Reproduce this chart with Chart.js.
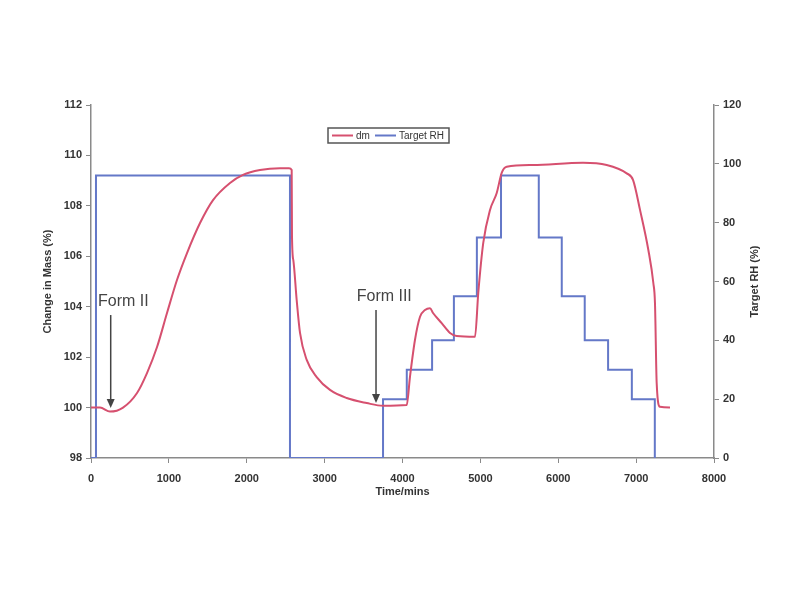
<!DOCTYPE html>
<html>
<head>
<meta charset="utf-8">
<script src="https://cdn.jsdelivr.net/npm/chart.js@4/dist/chart.umd.min.js"></script>
<style>
    body { margin: 0; background: #fff; }
</style>
</head>
<body>
<canvas id="chartDVS" width="800" height="600"></canvas>
<script>
/* =============================
   DỮ LIỆU
============================= */

// dm – change in mass (%), left axis
const dmTime = [0, 116, 244, 411, 591, 719, 848, 976, 1104, 1233, 1400, 1567, 1785, 1952, 2170, 2427, 2542,
    2577, 2581, 2598, 2641, 2684, 2770, 2898, 3069, 3283, 3540, 3750, 4054,
    4096, 4160, 4225, 4289, 4353, 4392, 4503, 4610, 4696, 4931,
    4973, 5037, 5124, 5210, 5274, 5338, 5676, 6318, 6622, 6879, 6960,
    7050, 7157, 7221, 7242, 7264, 7306, 7435];
const dmValue = [100.0, 100.0, 99.84, 100.0, 100.58, 101.37, 102.40, 103.75, 105.06, 106.13, 107.32, 108.23, 108.91, 109.23, 109.42, 109.49, 109.49,
    109.42, 106.77, 105.85, 104.27, 102.96, 101.89, 101.21, 100.70, 100.38, 100.18, 100.07, 100.10,
    101.22, 102.68, 103.60, 103.87, 103.94, 103.75, 103.35, 102.96, 102.84, 102.81,
    104.55, 106.53, 107.84, 108.51, 109.31, 109.55, 109.62, 109.71, 109.62, 109.29, 109.03,
    107.84, 106.25, 104.94, 104.15, 100.97, 100.03, 100.0];

// Target RH (%), right axis – each value holds until the next time
const rhTime = [0, 64, 2555, 3750, 4055, 4380, 4660, 4955, 5265, 5750, 6045, 6340, 6640, 6945, 7240];
const rhValue = [0, 96, 0, 20, 30, 40, 55, 75, 96, 75, 55, 40, 30, 20, 0];

// annotations
const formLabels = ["Form II", "Form III"];
const formArrowTime = [253, 3660];
const formArrowTop = [103.67, 103.87];
const formArrowBottom = [99.98, 100.18];
const formTextTime = [90, 3412];
const formTextMass = [104.19, 104.40];

const RED = "#d6506f";
const BLUE = "#6478c8";
const AXIS = "#8a8a8a";
const TICK_FONT = { family: "'Liberation Sans', Arial, sans-serif", size: 11, weight: "bold" };

/* =============================
   PLUGIN – TIÊU ĐỀ, CHÚ THÍCH, MŨI TÊN
============================= */

const extras = {
    id: "extras",
    afterDraw(chart) {
        const ctx = chart.ctx;
        const xs = chart.scales.x, ys = chart.scales.y;
        const ca = chart.chartArea;
        const midY = (ca.top + ca.bottom) / 2;
        ctx.save();

        // axis titles
        ctx.fillStyle = "#333";
        ctx.font = "bold 11px 'Liberation Sans', Arial, sans-serif";
        ctx.textAlign = "center";
        ctx.textBaseline = "middle";
        ctx.fillText("Time/mins", (ca.left + ca.right) / 2, 492);
        ctx.save();
        ctx.translate(48, midY);
        ctx.rotate(-Math.PI / 2);
        ctx.fillText("Change in Mass (%)", 0, 0);
        ctx.restore();
        ctx.save();
        ctx.translate(755, midY);
        ctx.rotate(-Math.PI / 2);
        ctx.fillText("Target RH (%)", 0, 0);
        ctx.restore();

        // Form II / Form III
        ctx.strokeStyle = "#444";
        ctx.fillStyle = "#444";
        ctx.lineWidth = 1.5;
        formLabels.forEach((lbl, i) => {
            const px = xs.getPixelForValue(formArrowTime[i]);
            const top = ys.getPixelForValue(formArrowTop[i]);
            const bot = ys.getPixelForValue(formArrowBottom[i]);
            ctx.beginPath();
            ctx.moveTo(px, top);
            ctx.lineTo(px, bot - 6);
            ctx.stroke();
            ctx.beginPath();
            ctx.moveTo(px - 4, bot - 9);
            ctx.lineTo(px + 4, bot - 9);
            ctx.lineTo(px, bot);
            ctx.closePath();
            ctx.fill();

            ctx.font = "16px 'Liberation Sans', Arial, sans-serif";
            ctx.textAlign = "left";
            ctx.fillText(lbl, xs.getPixelForValue(formTextTime[i]), ys.getPixelForValue(formTextMass[i]));
        });

        // legend box
        ctx.strokeStyle = "#555";
        ctx.lineWidth = 1.5;
        ctx.strokeRect(328, 128, 121, 15);
        ctx.lineWidth = 2;
        ctx.strokeStyle = RED;
        ctx.beginPath(); ctx.moveTo(332, 135.5); ctx.lineTo(353, 135.5); ctx.stroke();
        ctx.strokeStyle = BLUE;
        ctx.beginPath(); ctx.moveTo(375, 135.5); ctx.lineTo(396, 135.5); ctx.stroke();
        ctx.fillStyle = "#333";
        ctx.font = "10px 'Liberation Sans', Arial, sans-serif";
        ctx.textAlign = "left";
        ctx.fillText("dm", 356, 136);
        ctx.fillText("Target RH", 399, 136);

        ctx.restore();
    }
};

/* =============================
   BIỂU ĐỒ
============================= */

new Chart(document.getElementById("chartDVS"), {
    type: "line",
    data: {
        datasets: [{
            label: "dm",
            data: dmTime.map((t, i) => ({ x: t, y: dmValue[i] })),
            borderColor: RED,
            borderWidth: 2,
            pointRadius: 0,
            cubicInterpolationMode: "monotone",
            yAxisID: "y"
        }, {
            label: "Target RH",
            data: rhTime.map((t, i) => ({ x: t, y: rhValue[i] })),
            borderColor: BLUE,
            borderWidth: 2,
            pointRadius: 0,
            stepped: "before",
            yAxisID: "y2"
        }]
    },
    options: {
        responsive: false,
        animation: false,
        layout: { padding: { top: 105, left: 0, right: 0, bottom: 0 } },
        plugins: { legend: { display: false }, tooltip: { enabled: false } },
        scales: {
            x: {
                type: "linear",
                min: 0, max: 8000,
                afterFit: s => { s.height = 142; },
                ticks: { stepSize: 1000, color: "#333", font: TICK_FONT, padding: 9, maxRotation: 0, autoSkip: false,
                    callback: v => String(v) },
                grid: { drawOnChartArea: false, tickLength: 5, color: AXIS },
                border: { color: AXIS, width: 1.5 }
            },
            y: {
                position: "left",
                min: 98, max: 112,
                afterFit: s => { s.width = 91; },
                ticks: { stepSize: 2, color: "#333", font: TICK_FONT, padding: 4 },
                grid: { drawOnChartArea: false, tickLength: 5, color: AXIS },
                border: { color: AXIS, width: 1.5 }
            },
            y2: {
                position: "right",
                min: 0, max: 120,
                afterFit: s => { s.width = 86; },
                ticks: { stepSize: 20, color: "#333", font: TICK_FONT, padding: 4 },
                grid: { drawOnChartArea: false, tickLength: 5, color: AXIS },
                border: { color: AXIS, width: 1.5 }
            }
        }
    },
    plugins: [extras]
});
</script>
</body>
</html>
